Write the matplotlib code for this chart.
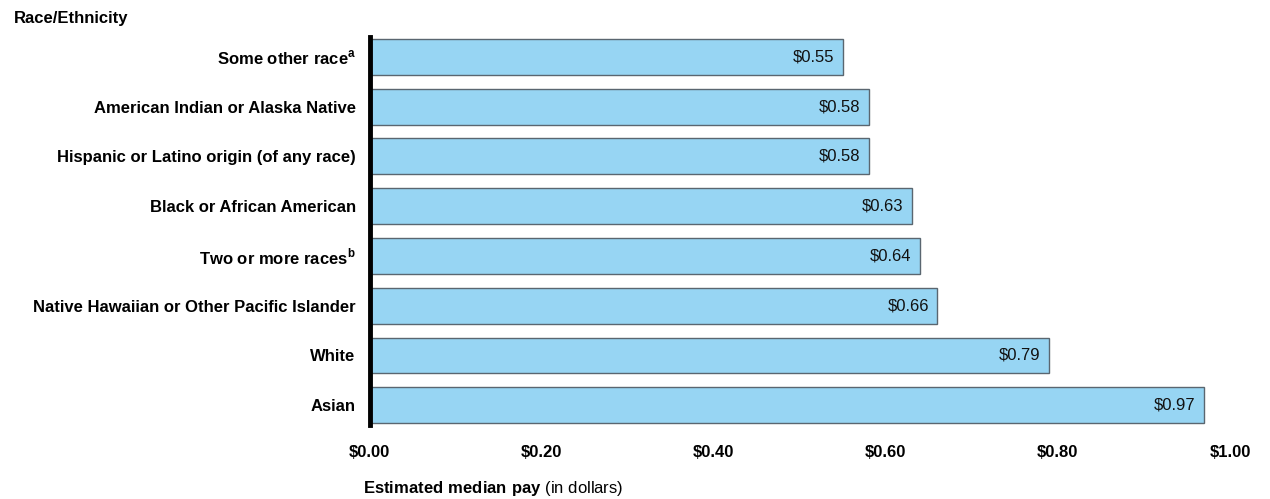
import matplotlib.pyplot as plt

plt.rcParams['font.family'] = ['Liberation Sans', 'DejaVu Sans']
plt.rcParams['mathtext.fontset'] = 'custom'
plt.rcParams['mathtext.rm'] = 'Liberation Sans'
plt.rcParams['mathtext.bf'] = 'Liberation Sans:bold'

groups = [r'Some other race$^{\mathbf{a}}$',
          'American Indian or Alaska Native',
          'Hispanic or Latino origin (of any race)',
          'Black or African American',
          r'Two or more races$^{\mathbf{b}}$',
          'Native Hawaiian or Other Pacific Islander',
          'White',
          'Asian']
pay = [0.55, 0.58, 0.58, 0.63, 0.64, 0.66, 0.79, 0.97]
xticks = [0.0, 0.2, 0.4, 0.6, 0.8, 1.0]

fig = plt.figure(figsize=(12.7, 4.99), dpi=100)
ax = fig.add_axes([0.291, 0.148, 0.9685 - 0.291, 0.926 - 0.148])

pos = list(range(len(groups)))
ax.barh(pos, pay, height=0.72, color='#97d5f3', edgecolor='#5a6670', linewidth=1.0)
for p, v in zip(pos, pay):
    ax.text(v - 0.01, p, '$%.2f' % v, ha='right', va='center', fontsize=12, color='#111111')

ax.set_ylim(7.4, -0.4)
ax.set_xlim(0, 1.0)
ax.set_yticks(pos)
ax.set_yticklabels(groups, fontsize=12, fontweight='bold')
ax.set_xticks(xticks)
ax.set_xticklabels(['$%.2f' % t for t in xticks], fontsize=12, fontweight='bold')
ax.tick_params(axis='both', length=0)
ax.tick_params(axis='y', pad=10)
ax.tick_params(axis='x', pad=14)
for s in ['top', 'right', 'bottom']:
    ax.spines[s].set_visible(False)
ax.spines['left'].set_linewidth(3.5)
ax.spines['left'].set_color('black')

fig.text(14 / 1270, 1 - 18 / 499, 'Race/Ethnicity', fontsize=12, fontweight='bold', va='center')
fig.text(363 / 1270, 1 - 488 / 499, r'$\mathbf{Estimated\ median\ pay}$ (in dollars)',
         fontsize=12, va='center')

fig.savefig('out.png', dpi=100)
